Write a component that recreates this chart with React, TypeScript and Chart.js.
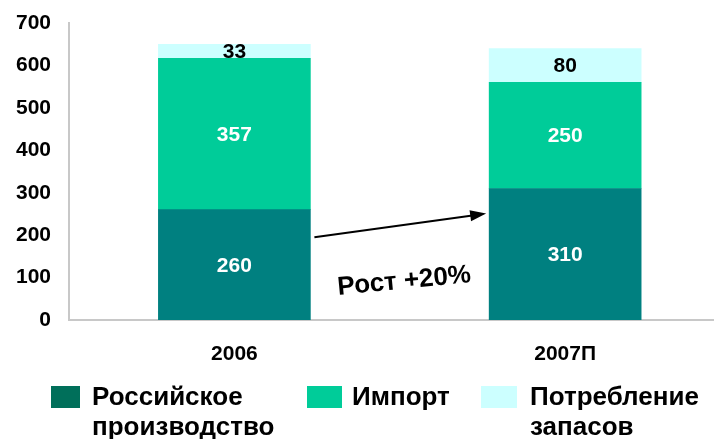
import React, { useEffect, useRef } from "react";
import { Chart, registerables } from "chart.js";

Chart.register(...registerables);

const categories = ["2006", "2007П"];
const seriesNames = [["Российское", "производство"], ["Импорт"], ["Потребление", "запасов"]];
const domestic = [260, 310];
const imports = [357, 250];
const stocks = [33, 80];
const yTicks = [0, 100, 200, 300, 400, 500, 600, 700];
const arrowFromValue = 195;
const arrowToValue = 251;
const growthLabel = "Рост +20%";

const FONT = '"Liberation Sans", Arial, sans-serif';
const barColors = ["#008080", "#00CC99", "#CCFFFF"];
const legendColors = ["#006F5A", "#00CC99", "#CCFFFF"];
const labelColors = ["#FFFFFF", "#FFFFFF", "#000000"];
const BAR_W = 152;

export default function App() {
  const ref = useRef<HTMLCanvasElement>(null);
  useEffect(() => {
    if (!ref.current) return;
    const series = [domestic, imports, stocks];
    const datasets = series.map((arr, i) => ({
      label: seriesNames[i].join(" "),
      data: arr.map((v, j) => ({ x: j, y: v })),
      backgroundColor: barColors[i],
      borderWidth: 0,
      barThickness: BAR_W,
    }));

    const labelsPlugin = {
      id: "vals",
      afterDatasetsDraw(chart: any) {
        const ctx = chart.ctx;
        ctx.save();
        ctx.font = `bold 21px ${FONT}`;
        ctx.textAlign = "center";
        ctx.textBaseline = "middle";
        chart.data.datasets.forEach((ds: any, i: number) => {
          const meta = chart.getDatasetMeta(i);
          meta.data.forEach((el: any, j: number) => {
            ctx.fillStyle = labelColors[i];
            const y = (el.y + el.base) / 2;
            ctx.fillText(String(series[i][j]), el.x, y + 1);
          });
        });
        ctx.restore();
      },
    };

    const arrowPlugin = {
      id: "arrow",
      afterDatasetsDraw(chart: any) {
        const ctx = chart.ctx;
        const xs = chart.scales.x;
        const ys = chart.scales.y;
        const x1 = xs.getPixelForValue(0) + BAR_W / 2 + 4;
        const y1 = ys.getPixelForValue(arrowFromValue);
        const x2 = xs.getPixelForValue(1) - BAR_W / 2 - 3;
        const y2 = ys.getPixelForValue(arrowToValue);
        const ang = Math.atan2(y2 - y1, x2 - x1);
        ctx.save();
        ctx.strokeStyle = "#000";
        ctx.fillStyle = "#000";
        ctx.lineWidth = 2;
        ctx.beginPath();
        ctx.moveTo(x1, y1);
        ctx.lineTo(x2 - 12 * Math.cos(ang), y2 - 12 * Math.sin(ang));
        ctx.stroke();
        ctx.beginPath();
        ctx.moveTo(x2, y2);
        ctx.lineTo(x2 - 16 * Math.cos(ang) + 5.5 * Math.sin(ang), y2 - 16 * Math.sin(ang) - 5.5 * Math.cos(ang));
        ctx.lineTo(x2 - 16 * Math.cos(ang) - 5.5 * Math.sin(ang), y2 - 16 * Math.sin(ang) + 5.5 * Math.cos(ang));
        ctx.closePath();
        ctx.fill();
        const cx = (x1 + x2) / 2 + 4;
        const cy = (y1 + y2) / 2 + 56;
        ctx.translate(cx, cy);
        ctx.rotate(-5.5 * Math.PI / 180);
        ctx.font = `bold 26px ${FONT}`;
        ctx.textAlign = "center";
        ctx.textBaseline = "middle";
        ctx.fillText(growthLabel, 0, 0);
        ctx.restore();
      },
    };

    const legendPlugin = {
      id: "customLegend",
      afterDraw(chart: any) {
        const ctx = chart.ctx;
        const boxX = [51, 307, 481];
        const boxW = [29, 35, 36];
        const textX = [92, 352, 530];
        ctx.save();
        ctx.font = `bold 26px ${FONT}`;
        ctx.textAlign = "left";
        ctx.textBaseline = "alphabetic";
        seriesNames.forEach((lines, i) => {
          ctx.fillStyle = legendColors[i];
          ctx.fillRect(boxX[i], 386, boxW[i], 22);
          ctx.fillStyle = "#000";
          lines.forEach((t, k) => ctx.fillText(t, textX[i], 405 + k * 30));
        });
        ctx.restore();
      },
    };

    const chart = new Chart(ref.current, {
      type: "bar",
      data: { datasets: datasets as any },
      options: {
        animation: false,
        responsive: false,
        maintainAspectRatio: false,
        layout: { padding: { top: 23, right: 0, left: 0, bottom: 0 } },
        plugins: { legend: { display: false }, tooltip: { enabled: false } },
        scales: {
          x: {
            type: "linear",
            stacked: true,
            offset: false,
            min: -0.5,
            max: 1.45,
            grid: { display: false, drawTicks: false, offset: false },
            border: { display: true, color: "#C8C8C8", width: 2 },
            afterBuildTicks: (s: any) => {
              s.ticks = categories.map((_, i) => ({ value: i }));
            },
            afterFit: (s: any) => {
              s.height = 119;
              s.paddingLeft = 0;
              s.paddingRight = 0;
            },
            ticks: {
              padding: 22,
              color: "#000",
              font: { family: FONT, size: 21, weight: "bold" },
              callback: (v: any) => categories[v as number] ?? "",
            },
          },
          y: {
            stacked: true,
            min: 0,
            max: 700,
            grid: { display: false, drawTicks: false },
            border: { display: true, color: "#C8C8C8", width: 2 },
            afterBuildTicks: (s: any) => {
              s.ticks = yTicks.map((v) => ({ value: v }));
            },
            afterFit: (s: any) => {
              s.width = 69;
              s.paddingTop = 0;
              s.paddingBottom = 0;
            },
            ticks: {
              padding: 18,
              color: "#000",
              font: { family: FONT, size: 21, weight: "bold" },
            },
          },
        },
      },
      plugins: [labelsPlugin, arrowPlugin, legendPlugin],
    });
    return () => chart.destroy();
  }, []);

  return (
    <div style={{ position: "fixed", left: 0, top: 0, width: 714, height: 439, background: "#fff" }}>
      <canvas ref={ref} width={714} height={439} style={{ width: 714, height: 439, display: "block" }} />
    </div>
  );
}
